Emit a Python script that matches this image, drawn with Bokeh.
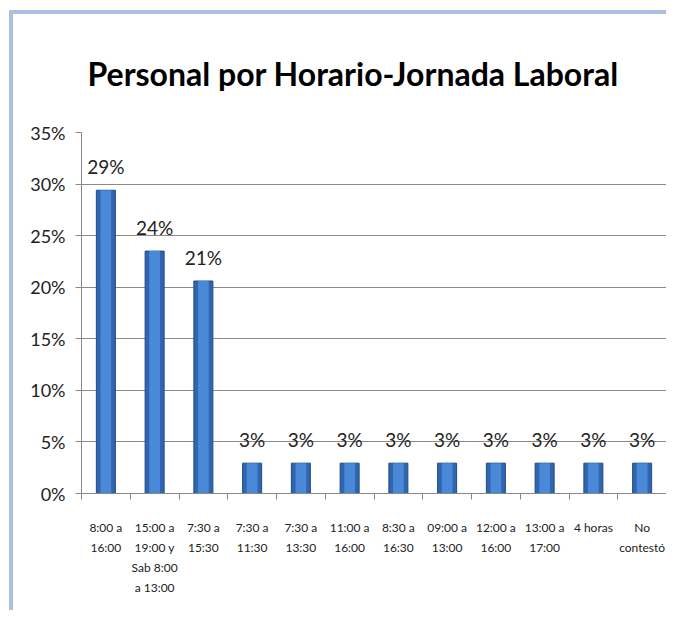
from bokeh.plotting import figure
from bokeh.models import FixedTicker, Range1d, ColumnDataSource, NumeralTickFormatter, Title
from bokeh.embed import file_html
from bokeh.resources import INLINE
from bokeh.core.properties import value

categories = ["8:00 a\n16:00", "15:00 a\n19:00 y\nSab 8:00\na 13:00", "7:30 a\n15:30",
              "7:30 a\n11:30", "7:30 a\n13:30", "11:00 a\n16:00", "8:30 a\n16:30",
              "09:00 a\n13:00", "12:00 a\n16:00", "13:00 a\n17:00", "4 horas", "No\ncontestó"]
values = [0.294, 0.235, 0.206, 0.0294, 0.0294, 0.0294, 0.0294, 0.0294, 0.0294, 0.0294, 0.0294, 0.0294]
labels = ["29%", "24%", "21%", "3%", "3%", "3%", "3%", "3%", "3%", "3%", "3%", "3%"]
y_ticks = [0, 0.05, 0.10, 0.15, 0.20, 0.25, 0.30, 0.35]

n = len(categories)
centers = [i + 0.5 for i in range(n)]
bounds = list(range(n + 1))

src = ColumnDataSource(dict(x=centers, top=values, lab=labels))

FONT = "Lato"

p = figure(width=657, height=600, output_backend="svg", toolbar_location=None,
           x_range=Range1d(0, n), y_range=Range1d(0, 0.35),
           min_border_left=68, min_border_right=4, min_border_top=118, min_border_bottom=121)
p.styles = {"border-left": "4px solid #a9c0de", "border-top": "4px solid #a9c0de",
            "margin-left": "9px", "margin-top": "10px"}

p.title = Title(text="Personal por Horario-Jornada Laboral", align="left",
                text_font=FONT, text_font_size="32px", vertical_align="top",
                text_font_style="bold", text_color="#000000", offset=6)
p.title.standoff = 76

p.outline_line_color = None
p.background_fill_color = "white"

# bars
p.vbar(x="x", top="top", width=0.39, source=src, fill_color="#3165b0",
       line_color="#1f4a85", line_width=1)
p.vbar(x="x", top="top", width=0.22, source=src, fill_color="#4a88d8",
       line_color=None)
p.text(x="x", y="top", text="lab", source=src, y_offset=-12,
       text_align="center", text_baseline="bottom",
       text_font=value(FONT), text_font_size="19px", text_color="#222222")

# y axis
p.yaxis.ticker = FixedTicker(ticks=y_ticks)
p.yaxis.formatter = NumeralTickFormatter(format="0%")
p.yaxis.major_label_text_font = FONT
p.yaxis.major_label_text_font_size = "18px"
p.yaxis.major_label_text_color = "#222222"
p.yaxis.major_tick_out = 6
p.yaxis.major_tick_in = 0
p.yaxis.minor_tick_line_color = None
p.yaxis.axis_line_color = "#888888"
p.yaxis.major_tick_line_color = "#888888"
p.yaxis.major_label_standoff = 10

# x axis
p.xaxis.ticker = FixedTicker(ticks=centers, minor_ticks=bounds)
p.xaxis.major_label_overrides = {c: categories[i] for i, c in enumerate(centers)}
p.xaxis.major_tick_out = 0
p.xaxis.major_tick_in = 0
p.xaxis.minor_tick_out = 6
p.xaxis.minor_tick_in = 0
p.xaxis.minor_tick_line_color = "#888888"
p.xaxis.axis_line_color = "#888888"
p.xaxis.major_label_text_font = FONT
p.xaxis.major_label_text_font_size = "12px"
p.xaxis.major_label_text_line_height = 1.35
p.xaxis.major_label_text_color = "#222222"
p.xaxis.major_label_standoff = 20

p.xgrid.grid_line_color = None
p.ygrid.ticker = FixedTicker(ticks=y_ticks)
p.ygrid.grid_line_color = "#8a8a8a"
p.ygrid.grid_line_width = 1

open("out.html", "w").write(file_html(p, INLINE))
